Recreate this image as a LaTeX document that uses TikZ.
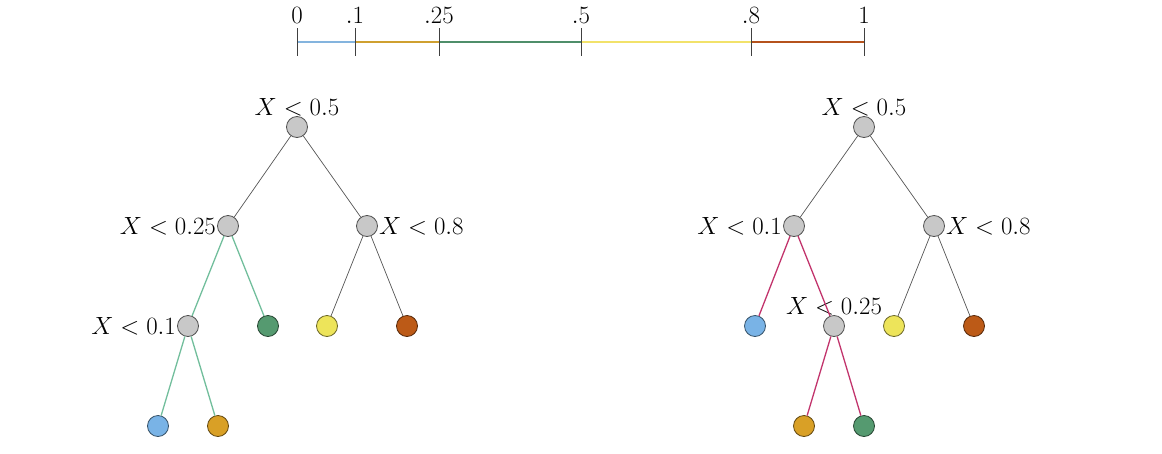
\documentclass[tikz,border=0pt]{standalone}
\definecolor{cgray}{HTML}{C8C8C8}
\definecolor{cblue}{HTML}{79B3E6}
\definecolor{cgold}{HTML}{D9A026}
\definecolor{cgreen}{HTML}{559A70}
\definecolor{cyellow}{HTML}{EDE45A}
\definecolor{crust}{HTML}{BC5A17}
\definecolor{sblue}{HTML}{84B4DE}
\definecolor{sgold}{HTML}{CFA030}
\definecolor{sgreen}{HTML}{4F8E6A}
\definecolor{syellow}{HTML}{F2E26A}
\definecolor{srust}{HTML}{B5521C}
\definecolor{emint}{HTML}{72BE9C}
\definecolor{ecrim}{HTML}{C2346C}
\definecolor{eline}{HTML}{555555}
\tikzset{
  vtx/.style={circle,minimum size=21pt,inner sep=0pt,line width=0.8pt},
  inner/.style={vtx,fill=cgray,draw=cgray!40!black},
  leaf/.style={vtx,fill=#1,draw=#1!45!black},
  lab/.style={font=\fontsize{23}{27}\selectfont,inner sep=1pt},
  edge/.style={draw=eline,line width=0.7pt},
  medge/.style={draw=emint,line width=1.3pt},
  redge/.style={draw=ecrim,line width=1.3pt},
  tick/.style={draw=black!75,line width=0.6pt},
  seg/.style={line width=2pt,draw=#1},
}
\begin{document}
\begin{tikzpicture}[x=1pt,y=-1pt]
\useasboundingbox (0,0) rectangle (1162,453);
% scale bar
\foreach \x/\n/\t in {297/s0/0, 355/s1/.1, 439/s2/.25, 581/s3/.5, 751/s4/.8, 864/s5/1}{
  \coordinate (\n) at (\x,42);
  \node[lab,anchor=base] (l\n) at (\x,23) {$\t$};
}
\draw[seg=sblue] (s0) -- (s1);
\draw[seg=sgold] (s1) -- (s2);
\draw[seg=sgreen] (s2) -- (s3);
\draw[seg=syellow] (s3) -- (s4);
\draw[seg=srust] (s4) -- (s5);
\foreach \x in {297,355,439,581,751,864}{\draw[tick] (\x,28) -- (\x,56);}

% left tree
\node[inner] (A) at (297,127) {};
\node[inner] (B) at (228,226) {};
\node[inner] (C) at (367,226) {};
\node[inner] (D) at (188,326) {};
\node[leaf=cgreen] (E) at (268,326) {};
\node[leaf=cyellow] (F) at (327,326) {};
\node[leaf=crust] (G) at (407,326) {};
\node[leaf=cblue] (H) at (158,426) {};
\node[leaf=cgold] (I) at (218,426) {};
\node[lab,anchor=south] (tA) at ([yshift=-1pt]A.north) {$X<0.5$};
\node[lab,anchor=east] (tB) at (B.west) {$X<0.25$};
\node[lab,anchor=west] (tC) at (C.east) {$X<0.8$};
\node[lab,anchor=east] (tD) at (D.west) {$X<0.1$};
\draw[edge] (A) -- (B);
\draw[edge] (A) -- (C);
\draw[medge] (B) -- (D);
\draw[medge] (B) -- (E);
\draw[edge] (C) -- (F);
\draw[edge] (C) -- (G);
\draw[medge] (D) -- (H);
\draw[medge] (D) -- (I);

% right tree
\node[inner] (a) at (864,127) {};
\node[inner] (b) at (794,226) {};
\node[inner] (c) at (934,226) {};
\node[leaf=cblue] (d) at (755,326) {};
\node[inner] (e) at (834,326) {};
\node[leaf=cyellow] (f) at (894,326) {};
\node[leaf=crust] (g) at (974,326) {};
\node[leaf=cgold] (h) at (804,426) {};
\node[leaf=cgreen] (i) at (864,426) {};
\node[lab,anchor=south] (ta) at ([yshift=-1pt]a.north) {$X<0.5$};
\node[lab,anchor=east] (tb) at (b.west) {$X<0.1$};
\node[lab,anchor=west] (tc) at (c.east) {$X<0.8$};
\node[lab,anchor=south] (te) at ([yshift=-1pt]e.north) {$X<0.25$};
\draw[edge] (a) -- (b);
\draw[edge] (a) -- (c);
\draw[redge] (b) -- (d);
\draw[redge] (b) -- (e);
\draw[edge] (c) -- (f);
\draw[edge] (c) -- (g);
\draw[redge] (e) -- (h);
\draw[redge] (e) -- (i);
\end{tikzpicture}
\end{document}
